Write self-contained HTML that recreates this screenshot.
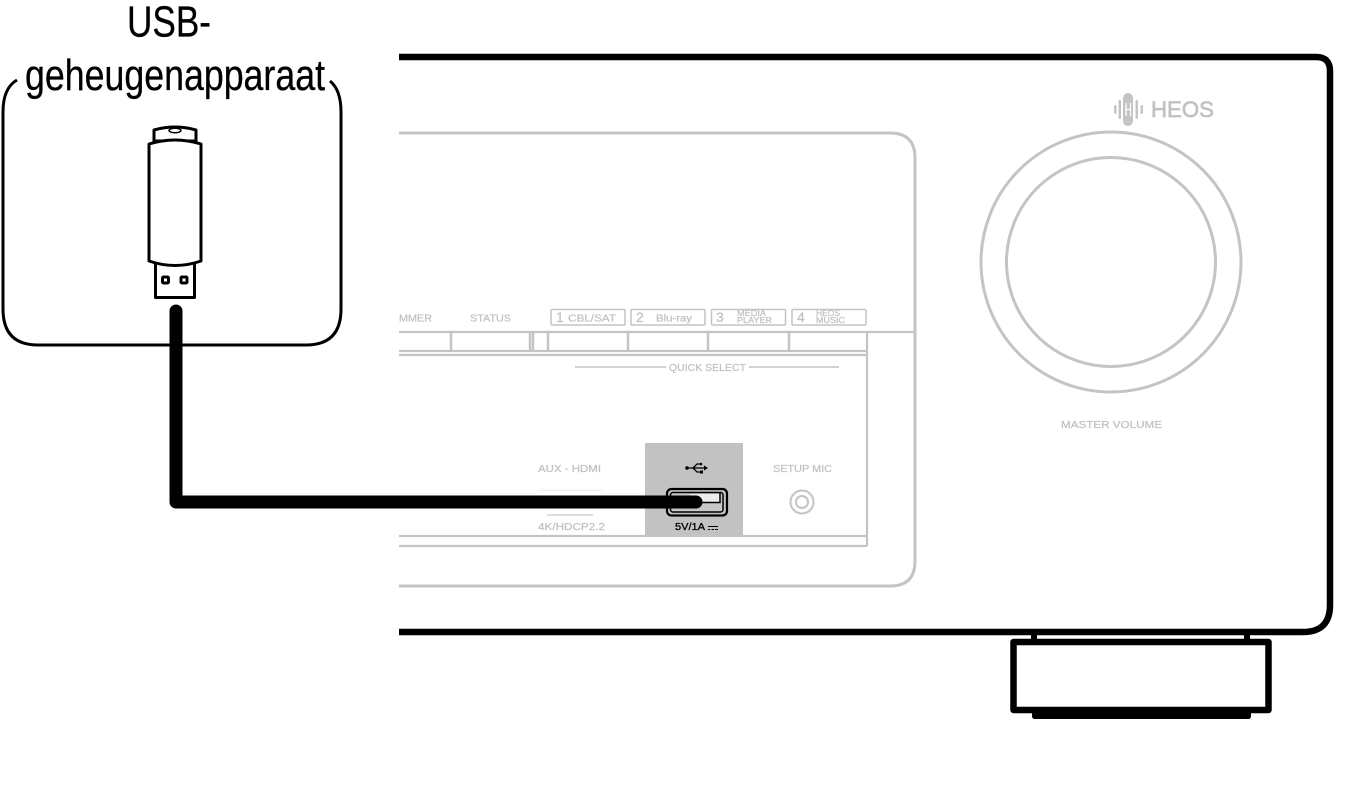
<!DOCTYPE html>
<html><head><meta charset="utf-8"><style>html,body{margin:0;padding:0;background:#fff}svg{display:block}text{font-family:"Liberation Sans",sans-serif}</style></head><body>
<svg width="1356" height="808" viewBox="0 0 1356 808" xmlns="http://www.w3.org/2000/svg">
<rect width="1356" height="808" fill="#fff"/>
<!-- chassis -->
<path d="M399 57H1316Q1330 57 1330 71V605Q1330 632 1303 632H399" fill="none" stroke="#000" stroke-width="6.5"/>
<!-- foot -->
<path d="M1034 632V642M1247 632V642" stroke="#000" stroke-width="6"/>
<rect x="1013.500" y="642" width="255" height="68" fill="#fff" stroke="#000" stroke-width="6.500" stroke-linejoin="round"/>
<path d="M1032 712H1251V716Q1251 719 1248 719H1035Q1032 719 1032 716Z" fill="#000"/>
<!-- panel -->
<g fill="none" stroke="#c4c4c4">
<path d="M399 133H890Q915 133 915 158V561Q915 586 890 586H399" stroke-width="3"/>
<path d="M399 332H915M399 351H867M399 355H867M867 332V546M399 536H867M399 546H867" stroke-width="2.200"/>
<path d="M451 332V351M530 332V351M533 332V351M548 332V351M628 332V351M708 332V351M789 332V351" stroke-width="2.500"/>
<rect x="551" y="309.500" width="74" height="15.500" rx="1" stroke-width="1.500"/>
<rect x="631" y="309.500" width="74" height="15.500" rx="1" stroke-width="1.500"/>
<rect x="711.500" y="309.500" width="74" height="15.500" rx="1" stroke-width="1.500"/>
<rect x="792" y="309.500" width="74" height="15.500" rx="1" stroke-width="1.500"/>
<path d="M575 367H666M749 367H839" stroke-width="1.600"/>
<path d="M538 490H602" stroke-width=".8" stroke="#e6e6e6"/>
<path d="M547 515H593" stroke-width="1.500" stroke="#d4d4d4"/>
<circle cx="1111" cy="262" r="130" stroke-width="3"/>
<circle cx="1111" cy="262" r="104.500" stroke-width="3"/>
<circle cx="802" cy="502" r="11.500" stroke-width="2"/>
<circle cx="802" cy="502" r="6" stroke-width="2"/>
</g>
<g fill="#c2c2c2" stroke="#c2c2c2" stroke-width=".25" font-size="10.500">
<text x="399" y="321.500" textLength="33" lengthAdjust="spacingAndGlyphs">MMER</text>
<text x="470" y="321.500" textLength="41" lengthAdjust="spacingAndGlyphs">STATUS</text>
<text x="556" y="322" font-size="14">1</text>
<text x="568" y="321.500" textLength="48" lengthAdjust="spacingAndGlyphs">CBL/SAT</text>
<text x="636" y="322" font-size="14">2</text>
<text x="656" y="321.500" textLength="36" lengthAdjust="spacingAndGlyphs">Blu-ray</text>
<text x="716" y="322" font-size="14">3</text>
<text x="737" y="316" font-size="8" textLength="29" lengthAdjust="spacingAndGlyphs">MEDIA</text>
<text x="737" y="323" font-size="8" textLength="35" lengthAdjust="spacingAndGlyphs">PLAYER</text>
<text x="797" y="322" font-size="14">4</text>
<text x="816" y="316" font-size="8" textLength="24" lengthAdjust="spacingAndGlyphs">HEOS</text>
<text x="816" y="323" font-size="8" textLength="29" lengthAdjust="spacingAndGlyphs">MUSIC</text>
<text x="669" y="371" textLength="77" lengthAdjust="spacingAndGlyphs">QUICK SELECT</text>
<text x="538" y="472" textLength="63" lengthAdjust="spacingAndGlyphs">AUX - HDMI</text>
<text x="538" y="530" textLength="67" lengthAdjust="spacingAndGlyphs">4K/HDCP2.2</text>
<text x="773" y="472" textLength="59" lengthAdjust="spacingAndGlyphs">SETUP MIC</text>
<text x="1061" y="428" textLength="101" lengthAdjust="spacingAndGlyphs">MASTER VOLUME</text>
<text x="1151" y="117" font-size="22" stroke-width=".7" textLength="63" lengthAdjust="spacingAndGlyphs">HEOS</text>
</g>
<!-- HEOS logo -->
<g fill="#c4c4c4">
<rect x="1123" y="93" width="10" height="33" rx="5"/>
<rect x="1118.500" y="100" width="2.500" height="19" rx="1.200"/>
<rect x="1135.500" y="100" width="2.500" height="19" rx="1.200"/>
<rect x="1114" y="105" width="2.500" height="9" rx="1.200"/>
<rect x="1140.500" y="105" width="2.500" height="9" rx="1.200"/>
</g>
<path d="M1126 103V116M1130.500 103V116M1126 109.500H1130.500" fill="none" stroke="#fff" stroke-width="1.300"/>
<!-- USB highlight -->
<rect x="645" y="443" width="98" height="92" fill="#c2c2c2"/>
<path d="M687 468H704M693 468L697 464H701M693 468L697 472H701" fill="none" stroke="#000" stroke-width="1.300"/>
<circle cx="687" cy="468" r="1.800"/>
<circle cx="701" cy="464" r="1.300"/>
<rect x="700" y="470.500" width="3" height="3"/>
<path d="M704 465.500L708 468L704 470.500Z"/>
<!-- USB port -->
<rect x="667" y="489" width="60" height="26.500" rx="4.500" fill="#c2c2c2" stroke="#000" stroke-width="2.200"/>
<rect x="670.500" y="492.500" width="52.500" height="19.500" rx="2.500" fill="#c8c8c8" stroke="#000" stroke-width="1.500"/>
<rect x="690" y="494" width="30" height="8" fill="#ececec"/>
<path d="M690 502.500H720V493" fill="none" stroke="#000" stroke-width="1.500"/>
<text x="675" y="530" font-size="10" stroke="#000" stroke-width=".3" textLength="30" lengthAdjust="spacingAndGlyphs" fill="#000">5V/1A</text>
<path d="M708 526.500H718M708 529.500H710M711.500 529.500H714M715 529.500H718" stroke="#000" stroke-width="1"/>
<!-- callout -->
<path d="M17 80Q3 88 3 112V309Q3 345 38 345H306Q341 345 341 309V112Q341 90 330 81" fill="none" stroke="#000" stroke-width="3"/>
<text x="127" y="36.500" font-size="43.500" fill="#000" stroke="#000" stroke-width=".3" textLength="84" lengthAdjust="spacingAndGlyphs">USB-</text>
<text x="25" y="90" font-size="43.500" fill="#000" stroke="#000" stroke-width=".3" textLength="300" lengthAdjust="spacingAndGlyphs">geheugenapparaat</text>
<!-- USB stick -->
<g fill="#fff" stroke="#000" stroke-width="3" stroke-linejoin="round">
<path d="M154 141V130Q175 124 196 130V141Z"/>
<ellipse cx="175" cy="130.500" rx="6" ry="2.200" stroke-width="1.500"/>
<rect x="155.500" y="262" width="39" height="35.500" stroke-width="3"/>
<path d="M149 144Q175 136 201 144V261Q175 270 149 261Z"/>
<rect x="162.500" y="277" width="6" height="6" rx="1" stroke-width="3"/>
<rect x="181" y="277" width="6" height="6" rx="1" stroke-width="3"/>
</g>
<!-- cable -->
<path d="M176 311V502H696" fill="none" stroke="#000" stroke-width="13" stroke-linecap="round" stroke-linejoin="round"/>
</svg>
</body></html>
